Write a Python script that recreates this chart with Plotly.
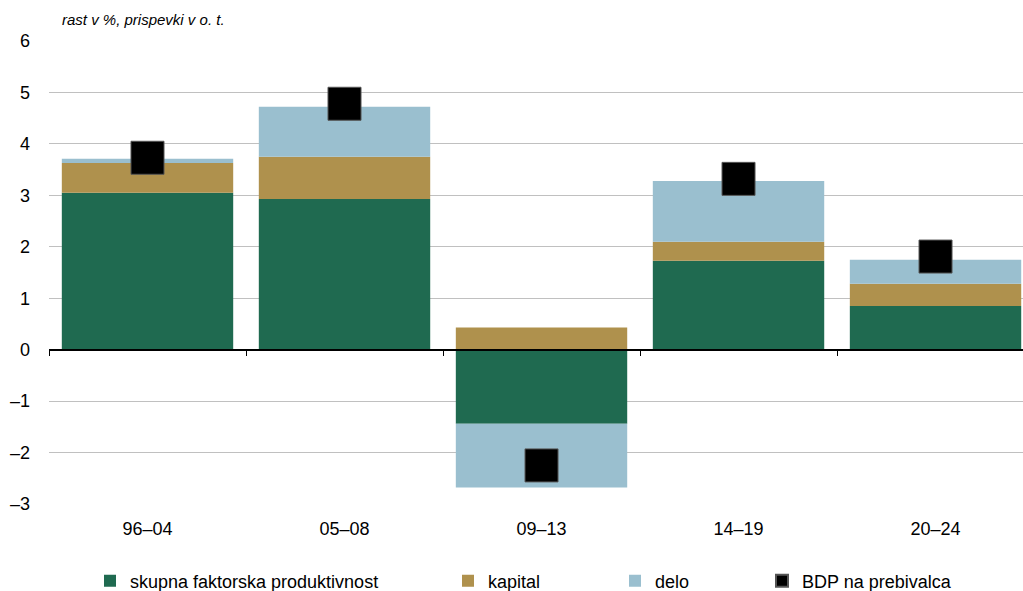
import plotly.graph_objects as go

categories = ["96–04", "05–08", "09–13", "14–19", "20–24"]
tfp = [3.05, 2.93, -1.44, 1.73, 0.85]
kapital = [0.58, 0.82, 0.43, 0.37, 0.43]
delo = [0.08, 0.97, -1.24, 1.18, 0.47]
bdp = [3.73, 4.78, -2.25, 3.32, 1.81]
ytick_vals = [-3, -2, -1, 0, 1, 2, 3, 4, 5, 6]
ytick_text = ["–3", "–2", "–1", "0", "1", "2", "3", "4", "5", "6"]

FONT = "Liberation Sans, Arial, sans-serif"

fig = go.Figure()
fig.add_trace(go.Bar(x=categories, y=tfp, name="skupna faktorska produktivnost",
                     marker=dict(color="#1F6A50", line=dict(width=0)), legend="legend"))
fig.add_trace(go.Bar(x=categories, y=kapital, name="kapital",
                     marker=dict(color="#AF914D", line=dict(width=0)), legend="legend2"))
fig.add_trace(go.Bar(x=categories, y=delo, name="delo",
                     marker=dict(color="#9ABFCF", line=dict(width=0)), legend="legend3"))
fig.add_trace(go.Scatter(x=categories, y=bdp, name="BDP na prebivalca", mode="markers",
                         xaxis="x2",
                         marker=dict(symbol="square", size=33, color="#000000",
                                     line=dict(color="#555555", width=1)),
                         legend="legend4"))

leg_common = dict(orientation="h", xref="container", yref="container", xanchor="left",
                  yanchor="middle", y=(591 - 581) / 591, bgcolor="rgba(0,0,0,0)",
                  font=dict(family=FONT, size=18, color="#000000"), itemsizing="constant",
                  itemwidth=30)

fig.update_layout(
    width=1023, height=591,
    barmode="relative", bargap=0.13,
    plot_bgcolor="white", paper_bgcolor="white",
    margin=dict(l=49, r=0, t=41, b=87),
    font=dict(family=FONT, size=18, color="#000000"),
    showlegend=True,
    legend=dict(leg_common, x=90 / 1023),
    legend2=dict(leg_common, x=448 / 1023),
    legend3=dict(leg_common, x=615 / 1023),
    legend4=dict(leg_common, x=762 / 1023),
    xaxis=dict(type="category", anchor="free", position=1 / 3, showline=True,
               range=[-0.5, 4.444],
               linecolor="#000000", linewidth=1.5, ticks="outside", tickson="boundaries",
               ticklen=6, tickcolor="#000000", showticklabels=False, showgrid=False,
               zeroline=False),
    xaxis2=dict(type="category", overlaying="x", matches="x", anchor="y", side="bottom",
                showline=False, ticks="", showgrid=False, zeroline=False,
                tickfont=dict(family=FONT, size=18), ticklabelstandoff=12),
    yaxis=dict(range=[-3, 6], tickvals=ytick_vals, ticktext=ytick_text,
               showgrid=True, gridcolor="#C0C0C0", gridwidth=1.2, zeroline=False,
               showline=False, ticks="", tickfont=dict(family=FONT, size=18),
               ticklabelstandoff=18),
    annotations=[dict(text="<i>rast v %, prispevki v o. t.</i>", xref="paper", yref="paper",
                      x=(60 - 49) / 974, y=1, yshift=22, xanchor="left", yanchor="middle",
                      showarrow=False, font=dict(family=FONT, size=15, color="#000000"))],
)

fig.write_html("out.html")
